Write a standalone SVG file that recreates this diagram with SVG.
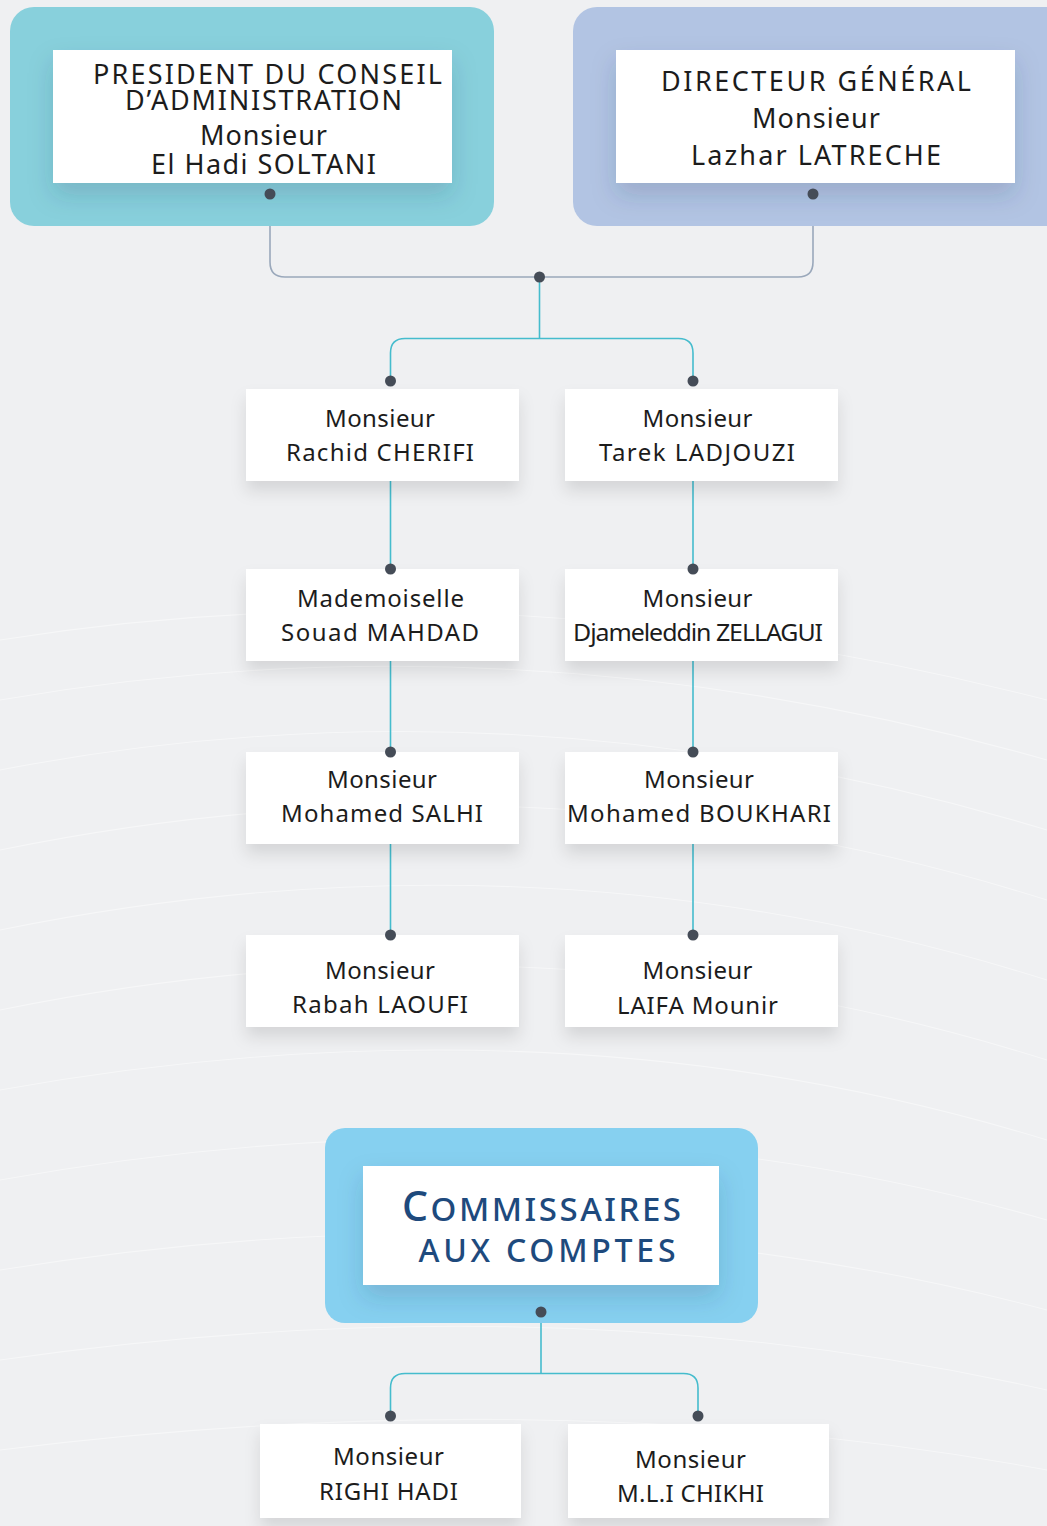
<svg xmlns="http://www.w3.org/2000/svg" width="1047" height="1526" viewBox="0 0 1047 1526">
<defs>
<filter id="sh" x="-20%" y="-30%" width="140%" height="170%">
<feDropShadow dx="0" dy="10" stdDeviation="8" flood-color="#000" flood-opacity="0.11"/>
</filter>
<filter id="shp" x="-20%" y="-30%" width="140%" height="170%">
<feDropShadow dx="0" dy="12" stdDeviation="12" flood-color="#1f3f5a" flood-opacity="0.18"/>
</filter>
<style>
.t{font-family:"Noto Sans","Open Sans",sans-serif;font-size:24px;fill:#1c1c1c;text-anchor:middle}
.tb{font-family:"Noto Sans","Open Sans",sans-serif;font-size:27px;fill:#1c1c1c;text-anchor:middle}
.cm{font-family:"Noto Sans","Open Sans",sans-serif;font-weight:500;fill:#1e4a7d;text-anchor:middle}
.box{fill:#ffffff}
.dot{fill:#454c57}
.g{fill:none;stroke:#9aa8bb;stroke-width:1.6}
.c{fill:none;stroke:#45bccd;stroke-width:1.6}
.bg{fill:none;stroke:#ffffff;stroke-width:1.1;opacity:0.45}
</style>
</defs>
<rect x="0" y="0" width="1047" height="1526" fill="#eff0f2"/>
<g id="background">
<path class="bg" d="M 0 640 Q 500 560 1047 700"/>
<path class="bg" d="M 0 700 Q 520 610 1047 760"/>
<path class="bg" d="M 0 770 Q 520 670 1047 830"/>
<path class="bg" d="M 0 850 Q 540 740 1047 900"/>
<path class="bg" d="M 0 930 Q 540 820 1047 980"/>
<path class="bg" d="M 0 1010 Q 540 900 1047 1060"/>
<path class="bg" d="M 0 1090 Q 560 990 1047 1140"/>
<path class="bg" d="M 0 1180 Q 560 1080 1047 1220"/>
<path class="bg" d="M 0 1270 Q 560 1180 1047 1310"/>
<path class="bg" d="M 0 1360 Q 560 1280 1047 1390"/>
<path class="bg" d="M 0 1450 Q 560 1380 1047 1470"/>
</g>
<g id="connectors">
<path class="g" d="M 270 194 V 262 Q 270 277 285 277 H 798 Q 813 277 813 262 V 194"/>
<path class="c" d="M 539.5 277 V 338.5"/>
<path class="c" d="M 390.5 381 V 353 Q 390.5 338.5 405 338.5 H 678.5 Q 693 338.5 693 353 V 381"/>
<path class="c" d="M 390.5 481 V 569 M 390.5 661 V 752 M 390.5 844 V 935"/>
<path class="c" d="M 693 481 V 569 M 693 661 V 752 M 693 844 V 935"/>
<path class="c" d="M 541 1312 V 1373.5"/>
<path class="c" d="M 390.5 1416 V 1388 Q 390.5 1373.5 405 1373.5 H 683.5 Q 698 1373.5 698 1388 V 1416"/>
</g>
<g id="president">
<rect x="10" y="7" width="484" height="219" rx="24" fill="#88d0dc"/>
<rect class="box" x="53" y="50" width="399" height="133" filter="url(#shp)"/>
<text class="tb" x="267.5" y="84" textLength="349">PRESIDENT DU CONSEIL</text>
<text class="tb" x="263.5" y="110" textLength="277">D’ADMINISTRATION</text>
<text class="tb" x="263.5" y="145" textLength="127">Monsieur</text>
<text class="tb" x="263.5" y="174" textLength="225">El Hadi SOLTANI</text>
<circle class="dot" cx="270" cy="194" r="5.5"/>
</g>
<g id="directeur">
<rect x="573" y="7" width="500" height="219" rx="24" fill="#b2c4e3"/>
<rect class="box" x="616" y="50" width="399" height="133" filter="url(#shp)"/>
<text class="tb" x="816" y="91" textLength="310">DIRECTEUR GÉNÉRAL</text>
<text class="tb" x="816" y="128" textLength="128">Monsieur</text>
<text class="tb" x="816" y="165" textLength="250">Lazhar LATRECHE</text>
<circle class="dot" cx="813" cy="194" r="5.5"/>
</g>
<circle class="dot" cx="539.5" cy="277" r="5.5"/>
<g id="cherifi">
<rect class="box" x="246" y="389" width="273" height="92" filter="url(#sh)"/>
<text class="t" x="380" y="427" textLength="110">Monsieur</text>
<text class="t" x="380" y="461" textLength="188">Rachid CHERIFI</text>
<circle class="dot" cx="390.5" cy="381" r="5.5"/>
</g>
<g id="ladjouzi">
<rect class="box" x="565" y="389" width="273" height="92" filter="url(#sh)"/>
<text class="t" x="697.5" y="427" textLength="110">Monsieur</text>
<text class="t" x="697" y="461" textLength="196">Tarek LADJOUZI</text>
<circle class="dot" cx="693" cy="381" r="5.5"/>
</g>
<g id="mahdad">
<rect class="box" x="246" y="569" width="273" height="92" filter="url(#sh)"/>
<text class="t" x="380.5" y="607" textLength="167">Mademoiselle</text>
<text class="t" x="380" y="641" textLength="198">Souad MAHDAD</text>
<circle class="dot" cx="390.5" cy="569" r="5.5"/>
</g>
<g id="zellagui">
<rect class="box" x="565" y="569" width="273" height="92" filter="url(#sh)"/>
<text class="t" x="697.5" y="607" textLength="110">Monsieur</text>
<text class="t" x="697.5" y="641" textLength="249" lengthAdjust="spacingAndGlyphs" letter-spacing="-1">Djameleddin ZELLAGUI</text>
<circle class="dot" cx="693" cy="569" r="5.5"/>
</g>
<g id="salhi">
<rect class="box" x="246" y="752" width="273" height="92" filter="url(#sh)"/>
<text class="t" x="382" y="788" textLength="110">Monsieur</text>
<text class="t" x="382" y="822" textLength="202">Mohamed SALHI</text>
<circle class="dot" cx="390.5" cy="752" r="5.5"/>
</g>
<g id="boukhari">
<rect class="box" x="565" y="752" width="273" height="92" filter="url(#sh)"/>
<text class="t" x="699" y="788" textLength="110">Monsieur</text>
<text class="t" x="699" y="822" textLength="264">Mohamed BOUKHARI</text>
<circle class="dot" cx="693" cy="752" r="5.5"/>
</g>
<g id="laoufi">
<rect class="box" x="246" y="935" width="273" height="92" filter="url(#sh)"/>
<text class="t" x="380" y="979" textLength="110">Monsieur</text>
<text class="t" x="380" y="1013" textLength="176">Rabah LAOUFI</text>
<circle class="dot" cx="390.5" cy="935" r="5.5"/>
</g>
<g id="laifa">
<rect class="box" x="565" y="935" width="273" height="92" filter="url(#sh)"/>
<text class="t" x="697.5" y="979" textLength="110">Monsieur</text>
<text class="t" x="697.5" y="1014" textLength="161">LAIFA Mounir</text>
<circle class="dot" cx="693" cy="935" r="5.5"/>
</g>
<g id="commissaires">
<rect x="325" y="1128" width="433" height="195" rx="20" fill="#86d0f0"/>
<rect class="box" x="363" y="1166" width="356" height="119" filter="url(#shp)"/>
<text class="cm" x="541.5" y="1221" textLength="279"><tspan font-size="41">C</tspan><tspan font-size="33">OMMISSAIRES</tspan></text>
<text class="cm" x="547" y="1262" font-size="32" textLength="257">AUX COMPTES</text>
<circle class="dot" cx="541" cy="1312" r="5.5"/>
</g>
<g id="righi">
<rect class="box" x="260" y="1424" width="261" height="94" filter="url(#sh)"/>
<text class="t" x="388.5" y="1465" textLength="111">Monsieur</text>
<text class="t" x="388.5" y="1500" textLength="139">RIGHI HADI</text>
<circle class="dot" cx="390.5" cy="1416" r="5.5"/>
</g>
<g id="chikhi">
<rect class="box" x="568" y="1424" width="261" height="94" filter="url(#sh)"/>
<text class="t" x="690.5" y="1468" textLength="111">Monsieur</text>
<text class="t" x="690.5" y="1502" textLength="147">M.L.I CHIKHI</text>
<circle class="dot" cx="698" cy="1416" r="5.5"/>
</g>
</svg>
